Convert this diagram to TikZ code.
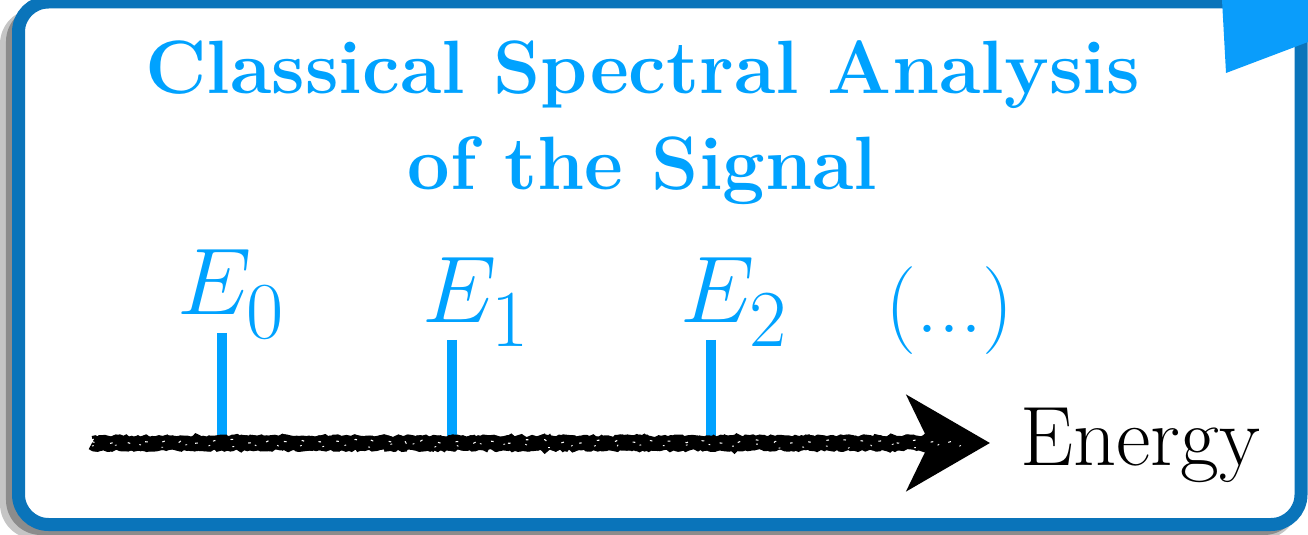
\RequirePackage{fix-cm}
\documentclass[tikz,border=0pt]{standalone}
\usetikzlibrary{arrows.meta,decorations.pathmorphing}
\definecolor{framecol}{HTML}{0A74BA}
\definecolor{skyblue}{HTML}{00A2FF}
\definecolor{tabcol}{HTML}{0A9DFB}
\DeclareMathSizes{54}{54}{46}{36}
\newcommand\lvl[1]{$E_{\raisebox{-5pt}{$\scriptstyle #1$}}$}
\tikzset{
	tickbar/.style={skyblue,line width=0.2cm},
	elabel/.style={skyblue,inner sep=0pt,anchor=base west,font=\fontsize{54}{60}\selectfont},
	chalk/.style={black,decorate,decoration={random steps,segment length=2pt,amplitude=0.9pt}}
}
\begin{document}
\begin{tikzpicture}
\useasboundingbox (0,0) rectangle (26.16,10.68);
% shadow and frame
\fill[black!45,opacity=0.5,rounded corners=0.7cm] (0.0,-0.1) rectangle (25.95,10.5);
\fill[black!60,opacity=0.6,rounded corners=0.7cm] (0.12,-0.02) rectangle (25.98,10.55);
\draw[framecol,fill=white,line width=0.26cm,rounded corners=0.6cm] (0.37,0.19) rectangle (26.02,10.64);
\fill[tabcol] (24.44,10.68) -- (26.16,10.68) -- (26.16,9.84) -- (24.52,9.22) -- cycle;
% title
\node[skyblue,inner sep=0pt,anchor=north,align=center,font=\fontsize{43}{55}\selectfont\bfseries] (title) at (12.85,9.88)
	{Classical Spectral Analysis\\of the Signal};
% levels
\node[elabel] (e0) at (3.55,4.38) {\lvl{0}};
\node[elabel] (e1) at (8.45,4.22) {\lvl{1}};
\node[elabel] (e2) at (13.6,4.22) {\lvl{2}};
\node[elabel,font=\fontsize{50}{54}\selectfont] (more) at (17.7,4.02) {(...)};
\coordinate (t0) at (4.44,4.02);
\coordinate (t1) at (9.04,3.88);
\coordinate (t2) at (14.22,3.88);
\foreach \t in {t0,t1,t2}
	\draw[tickbar] (\t) -- (\t |- 0,1.92);
% energy axis
\coordinate (axstart) at (1.84,1.82);
\coordinate (axtip) at (19.8,1.82);
\node[inner sep=0pt,anchor=base west,font=\fontsize{48}{52}\selectfont] (energy) at (20.4,1.38) {Energy};
\draw[chalk,line width=0.28cm] (axstart) -- ([xshift=-1.1cm]axtip);
\draw[chalk,line width=0.06cm] ([yshift=0.11cm]axstart) -- ([xshift=-1.2cm,yshift=0.11cm]axtip);
\draw[chalk,line width=0.06cm] ([yshift=-0.12cm]axstart) -- ([xshift=-1.2cm,yshift=-0.12cm]axtip);
\draw[line width=0.28cm,-{Stealth[length=1.66cm,width=1.9cm,inset=0.45cm]}] ([xshift=-1.3cm]axtip) -- (axtip);
% chalk speckles
\draw[white,line width=0.6pt,dash pattern=on 1.5pt off 9pt,decorate,decoration={random steps,segment length=3pt,amplitude=1.2pt}]
	([yshift=0.03cm]axstart) -- ([xshift=-0.5cm,yshift=0.03cm]axtip);
\draw[white,line width=0.5pt,dash pattern=on 1pt off 13pt,decorate,decoration={random steps,segment length=3pt,amplitude=1.5pt}]
	([yshift=-0.06cm]axstart) -- ([xshift=-0.3cm,yshift=-0.06cm]axtip);
\end{tikzpicture}
\end{document}
